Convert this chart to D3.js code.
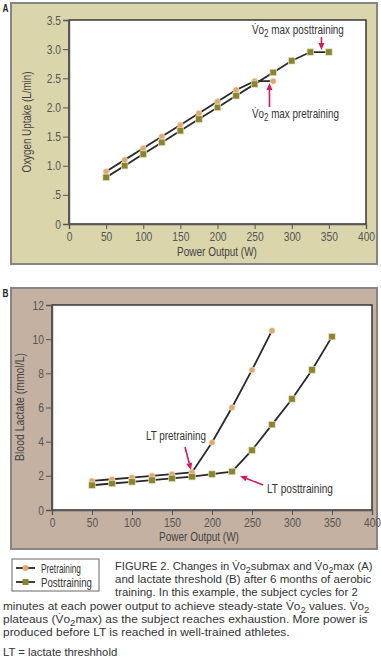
<!DOCTYPE html>
<html><head><meta charset="utf-8">
<script src="https://cdn.jsdelivr.net/npm/d3@7"></script>
<style>
html,body{margin:0;padding:0;background:#fff;}
svg{display:block;}
text{font-family:'Liberation Sans',Arial,Helvetica,sans-serif;}
</style>
</head><body>
<svg id="c" width="381" height="658"></svg>
<script>
// ---- data ----
const powerPre = [50, 75, 100, 125, 150, 175, 200, 225, 250, 275];
const powerPost = [50, 75, 100, 125, 150, 175, 200, 225, 250, 275, 300, 325, 350];
const o2Pre = [0.9, 1.1, 1.3, 1.5, 1.7, 1.9, 2.1, 2.3, 2.45, 2.45];
const o2Post = [0.8, 1.0, 1.2, 1.4, 1.6, 1.8, 2.0, 2.2, 2.4, 2.6, 2.8, 2.95, 2.95];
const lacPre = [1.7, 1.8, 1.9, 2.0, 2.1, 2.2, 3.95, 6.0, 8.2, 10.5];
const lacPost = [1.45, 1.55, 1.65, 1.75, 1.85, 1.95, 2.1, 2.25, 3.5, 5.0, 6.5, 8.2, 10.15];
const xTicks = [0, 50, 100, 150, 200, 250, 300, 350, 400];
const yTicksA = [0, 0.5, 1.0, 1.5, 2.0, 2.5, 3.0, 3.5];
const yTickLabelsA = ["0", ".5", "1.0", "1.5", "2.0", "2.5", "3.0", "3.5"];
const yTicksB = [0, 2, 4, 6, 8, 10, 12];
const seriesNames = ["Pretraining", "Posttraining"];

const PRE_COLOR = "#E0A86E", POST_COLOR = "#8A8430", LINE = "#2a2a2a", RED = "#D8195C";
const COND = 0.82;
const svg = d3.select("#c");

function arrow(g, x1, y1, x2, y2) {
  const ang = Math.atan2(y2 - y1, x2 - x1);
  const L = 7, W = 3;
  const bx = x2 - L * Math.cos(ang), by = y2 - L * Math.sin(ang);
  g.append("line").attr("x1", x1).attr("y1", y1).attr("x2", bx).attr("y2", by)
    .attr("stroke", RED).attr("stroke-width", 1.6);
  const px = -Math.sin(ang) * W, py = Math.cos(ang) * W;
  g.append("path").attr("d", `M${x2},${y2}L${bx + px},${by + py}L${bx - px},${by - py}Z`).attr("fill", RED);
}

function fillParts(t, parts) {
  let pending = 0;
  (Array.isArray(parts) ? parts : [parts]).forEach(p => {
    if (p === "VO2") {
      const a = t.append("tspan").text("V\u0307o");
      if (pending) a.attr("dy", pending);
      t.append("tspan").attr("dy", 2.5).attr("font-size", "0.8em").text("2");
      pending = -2.5;
    } else {
      const a = t.append("tspan").text(p);
      if (pending) { a.attr("dy", pending); pending = 0; }
    }
  });
}

function ctext(parent, x, y, parts, o = {}) {
  const t = parent.append("text").attr("x", 0).attr("y", 0)
    .attr("font-size", o.size || 12).attr("fill", o.fill || "#333")
    .attr("text-anchor", o.anchor || "start");
  if (o.weight) t.attr("font-weight", o.weight);
  fillParts(t, parts);
  let k = o.k || COND;
  if (o.width) { const w = t.node().getBBox().width; k = o.width / w; }
  t.attr("transform", `translate(${x},${y})${o.rotate ? ` rotate(${o.rotate})` : ""} scale(${k},1)`);
  return t;
}

function panel(opts) {
  const g = svg.append("g");
  g.append("rect").attr("x", opts.box[0]).attr("y", opts.box[1]).attr("width", opts.box[2]).attr("height", opts.box[3])
    .attr("fill", opts.bg).attr("stroke", "#858585").attr("stroke-width", 2);
  ctext(g, 2.5, opts.box[1] + 9, opts.letter, { size: 11, weight: "bold", fill: "#222", k: 0.75 });
  const x = opts.x, y = opts.y;
  const [x0, x1] = x.range(), [y0, y1] = y.range();
  g.append("rect").attr("x", x0).attr("y", y1).attr("width", x1 - x0).attr("height", y0 - y1)
    .attr("fill", "#fff").attr("stroke", "#2a2a2a").attr("stroke-width", 1.4);
  const xa = g.append("g").attr("transform", `translate(0,${y0})`)
    .call(d3.axisBottom(x).tickValues(xTicks).tickFormat(d3.format("d")).tickSize(5).tickPadding(3));
  const ya = g.append("g").attr("transform", `translate(${x0},0)`)
    .call(d3.axisLeft(y).tickValues(opts.yTicks).tickFormat((d, i) => opts.yLabels[i]).tickSize(6).tickPadding(2));
  [xa, ya].forEach(a => {
    a.select(".domain").attr("stroke", "#555").attr("stroke-width", 1.4);
    a.selectAll(".tick line").attr("stroke", "#555").attr("stroke-width", 1);
    a.selectAll(".tick text").attr("font-size", 12.5).attr("fill", "#555")
      .attr("font-family", "'Liberation Sans',Arial,sans-serif");
  });
  xa.selectAll(".tick text").attr("transform", `scale(${COND},1)`);
  ya.selectAll(".tick text").attr("x", -8 / COND).attr("transform", `scale(${COND},1)`);
  ctext(g, opts.xLabelPos[0], opts.xLabelPos[1], "Power Output (W)", { size: 12.5, anchor: "middle", width: 80, fill: "#444" });
  ctext(g, opts.yLabelPos[0], opts.yLabelPos[1], opts.yLabel, { size: 12.5, anchor: "middle", width: opts.yLabelW, rotate: -90, fill: "#444" });

  const line = d3.line().x(d => x(d[0])).y(d => y(d[1]));
  const pre = powerPre.map((p, i) => [p, opts.pre[i]]);
  const post = powerPost.map((p, i) => [p, opts.post[i]]);
  g.append("path").attr("d", line(post)).attr("fill", "none").attr("stroke", LINE).attr("stroke-width", 1.8);
  g.append("path").attr("d", line(pre)).attr("fill", "none").attr("stroke", LINE).attr("stroke-width", 1.8);
  g.selectAll(".pre").data(pre).join("circle").attr("cx", d => x(d[0])).attr("cy", d => y(d[1]))
    .attr("r", 3).attr("fill", PRE_COLOR).attr("stroke", "#f4e2c8").attr("stroke-width", 0.6);
  const s = 6.5;
  g.selectAll(".post").data(post).join("rect").attr("x", d => x(d[0]) - s / 2).attr("y", d => y(d[1]) - s / 2)
    .attr("width", s).attr("height", s).attr("fill", POST_COLOR).attr("stroke", "#e6e2bf").attr("stroke-width", 0.7);
  return g;
}

// ---- Panel A ----
const xA = d3.scaleLinear().domain([0, 400]).range([69, 366]);
const yA = d3.scaleLinear().domain([0, 3.5]).range([224, 20]);
const gA = panel({
  box: [11, 3, 366, 261], bg: "#DBD5AB", letter: "A", x: xA, y: yA,
  yTicks: yTicksA, yLabels: yTickLabelsA, yLabel: "Oxygen Uptake (L/min)", yLabelW: 101,
  xLabelPos: [217, 256], yLabelPos: [31, 122], pre: o2Pre, post: o2Post
});
ctext(gA, 252, 34, ["VO2", " max posttraining"], { size: 12.5, width: 92 });
arrow(gA, xA(340), 37, xA(340), 50);
ctext(gA, 252, 118, ["VO2", " max pretraining"], { size: 12.5, width: 87 });
arrow(gA, xA(270), 107, xA(270), 83);

// ---- Panel B ----
const xB = d3.scaleLinear().domain([0, 400]).range([52, 372]);
const yB = d3.scaleLinear().domain([0, 12]).range([510, 305]);
const gB = panel({
  box: [11, 288, 366, 261], bg: "#C5B1A2", letter: "B", x: xB, y: yB,
  yTicks: yTicksB, yLabels: yTicksB.map(String), yLabel: "Blood Lactate (mmol/L)", yLabelW: 108,
  xLabelPos: [199, 541], yLabelPos: [24, 407], pre: lacPre, post: lacPost
});
ctext(gB, 146, 440, "LT pretraining", { size: 12.5, width: 60 });
arrow(gB, 185, 447, 191, 470);
ctext(gB, 267, 493, "LT posttraining", { size: 12.5, width: 66 });
arrow(gB, 263, 485, 240, 476);

// ---- Legend ----
const lg = svg.append("g");
lg.append("rect").attr("x", 12).attr("y", 559).attr("width", 87).attr("height", 32).attr("fill", "#fff").attr("stroke", "#666").attr("stroke-width", 1);
const legW = [40, 51];
seriesNames.forEach((name, i) => {
  const cy = 568 + i * 14;
  lg.append("line").attr("x1", 16).attr("x2", 35).attr("y1", cy).attr("y2", cy).attr("stroke", LINE).attr("stroke-width", 1.8);
  if (i === 0) lg.append("circle").attr("cx", 25.5).attr("cy", cy).attr("r", 3).attr("fill", PRE_COLOR);
  else lg.append("rect").attr("x", 22.5).attr("y", cy - 3).attr("width", 6).attr("height", 6).attr("fill", POST_COLOR);
  ctext(lg, 41, cy + 4.5, name, { size: 12.5, width: legW[i] });
});

// ---- Caption ----
const capLines = [
  { x: 115, y: 570, w: 258, parts: ["FIGURE 2. Changes in ", "VO2", "submax and ", "VO2", "max (A)"] },
  { x: 115, y: 583, w: 257, parts: ["and lactate threshold (B) after 6 months of aerobic"] },
  { x: 115, y: 596, w: 243, parts: ["training. In this example, the subject cycles for 2"] },
  { x: 3, y: 610, w: 367, parts: ["minutes at each power output to achieve steady-state ", "VO2", " values. ", "VO2"] },
  { x: 3, y: 623, w: 365, parts: ["plateaus (", "VO2", "max) as the subject reaches exhaustion. More power is"] },
  { x: 3, y: 636, w: 287, parts: ["produced before LT is reached in well-trained athletes."] },
  { x: 3, y: 656, w: 0, parts: ["LT = lactate threshhold"] }
];
capLines.forEach(l => {
  ctext(svg, l.x, l.y, l.parts, l.w ? { size: 11.3, width: l.w, fill: "#333" } : { size: 11.3, k: 1, fill: "#333" });
});
</script>
</body></html>
